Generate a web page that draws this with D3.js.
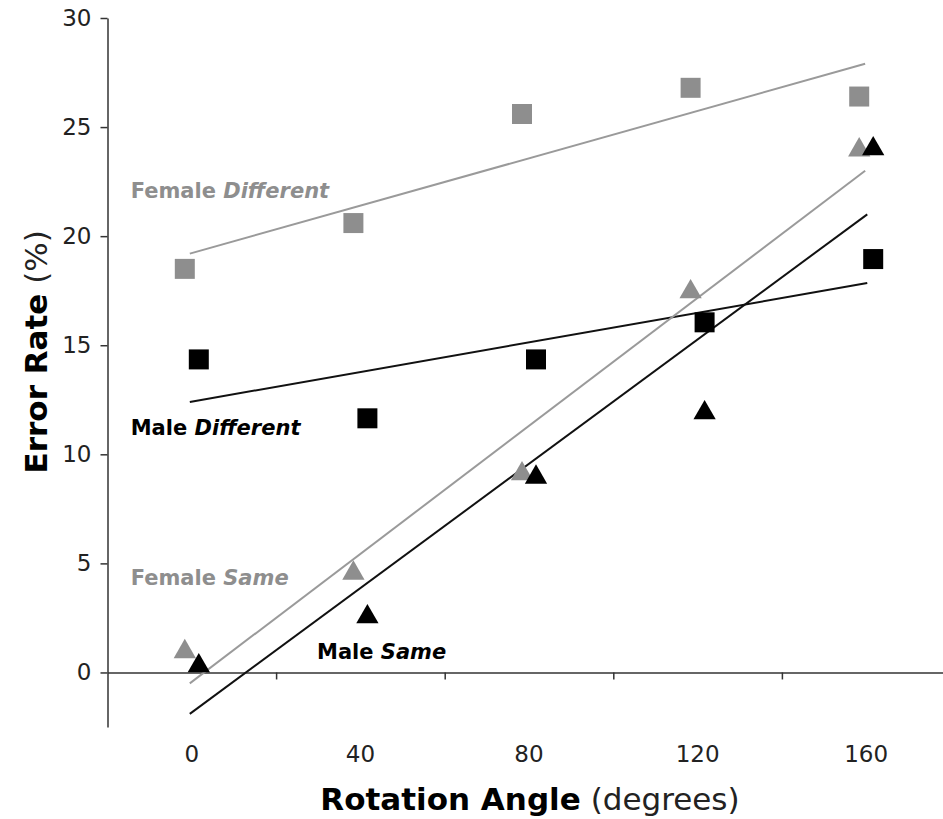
<!DOCTYPE html>
<html>
<head>
<meta charset="utf-8">
<script src="https://cdn.jsdelivr.net/npm/d3@7"></script>
<style>
  html, body { margin: 0; padding: 0; background: #fff; }
  svg { display: block; font-family: "DejaVu Sans", Verdana, sans-serif; }
</style>
</head>
<body>
<svg id="chart" width="943" height="819"></svg>
<script>
'use strict';

// rotation angles (categories on the x axis)
const angles = [0, 40, 80, 120, 160];
const yTicks = [0, 5, 10, 15, 20, 25, 30];

// error rates (%)
const femaleDifferent = [18.5, 20.6, 25.6, 26.8, 26.4];
const maleDifferent = [14.35, 11.65, 14.35, 16.05, 18.95];
const femaleSame = [0.95, 4.55, 9.1, 17.45, 23.95];
const maleSame = [0.3, 2.55, 8.95, 11.9, 24.0];

// trend line ends [start, end] at angle 0 and 160, as drawn
const trendFemaleDifferent = [19.2, 27.9];
const trendMaleDifferent = [12.4, 17.85];
const trendFemaleSame = [-0.5, 23.0];
const trendMaleSame = [-1.9, 21.0];

const GREY = '#8e8e8e';
const series = [
	{name: 'Female', kind: 'Different', values: femaleDifferent, trend: trendFemaleDifferent, shape: 'square', color: GREY, line: '#9a9a9a', dx: -7},
	{name: 'Male', kind: 'Different', values: maleDifferent, trend: trendMaleDifferent, shape: 'square', color: '#000', line: '#111', dx: 7},
	{name: 'Female', kind: 'Same', values: femaleSame, trend: trendFemaleSame, shape: 'triangle', color: GREY, line: '#9a9a9a', dx: -7},
	{name: 'Male', kind: 'Same', values: maleSame, trend: trendMaleSame, shape: 'triangle', color: '#000', line: '#111', dx: 7}
];

// label anchors (angle, value) for the series names
const labelPos = [[-14.5, 21.75], [-14.5, 10.9], [-14.5, 4.0], [29.7, 0.62]];

const svg = d3.select('#chart');
const margin = {left: 107.5, top: 18, bottom: 92};

const x = d3.scaleLinear().domain([-20, 180]).range([margin.left, margin.left + 843]);
const y = d3.scaleLinear().domain([-2.5, 30]).range([727, margin.top]);

// y axis
const yAxis = d3.axisLeft(y).tickValues(yTicks).tickSize(7).tickSizeOuter(0).tickPadding(9);
const gy = svg.append('g')
	.attr('transform', 'translate(' + x(-20) + ',0)')
	.call(yAxis);
gy.select('.domain').attr('stroke', '#333').attr('stroke-width', 1.5);
gy.selectAll('.tick line').attr('stroke', '#333').attr('stroke-width', 1.5);
gy.selectAll('.tick text').attr('fill', '#222').attr('font-size', 23)
	.attr('font-family', '"DejaVu Sans", Verdana, sans-serif');

// x axis line at y = 0, ticks between categories
const gx = svg.append('g')
	.attr('transform', 'translate(0,' + y(0) + ')')
	.call(d3.axisBottom(x).tickValues([20, 60, 100, 140]).tickSize(7).tickSizeOuter(0).tickFormat(''));
gx.select('.domain').attr('stroke', '#333').attr('stroke-width', 1.5);
gx.selectAll('.tick line').attr('stroke', '#333').attr('stroke-width', 1.5);

// category labels at the bottom
svg.append('g').selectAll('text')
	.data(angles)
	.join('text')
		.attr('x', d => x(d))
		.attr('y', 762)
		.attr('text-anchor', 'middle')
		.attr('font-size', 23)
		.attr('fill', '#222')
		.text(d => d);

// trend lines
svg.append('g').selectAll('line')
	.data(series)
	.join('line')
		.attr('x1', x(angles[0]) - 2)
		.attr('x2', d => x(angles[angles.length - 1]) + d.dx * 0.15)
		.attr('y1', d => y(d.trend[0]))
		.attr('y2', d => y(d.trend[1]))
		.attr('stroke', d => d.line)
		.attr('stroke-width', 2);

// markers
const sym = {square: d3.symbol().type(d3.symbolSquare).size(400), triangle: d3.symbol().type(d3.symbolTriangle).size(215)};
series.forEach(s => {
	svg.append('g').selectAll('path')
		.data(s.values)
		.join('path')
			.attr('d', sym[s.shape])
			.attr('transform', (d, i) => 'translate(' + (x(angles[i]) + s.dx) + ',' + y(d) + ')')
			.attr('fill', s.color);
});

// series labels
series.forEach((s, i) => {
	const t = svg.append('text')
		.attr('x', x(labelPos[i][0]))
		.attr('y', y(labelPos[i][1]))
		.attr('font-size', 21)
		.attr('font-weight', 'bold')
		.attr('fill', s.color);
	t.append('tspan').text(s.name + ' ');
	t.append('tspan').attr('font-style', 'italic').text(s.kind);
});

// axis titles
const xt = svg.append('text')
	.attr('x', 530)
	.attr('y', 810)
	.attr('text-anchor', 'middle')
	.attr('font-size', 31)
	.attr('fill', '#000');
xt.append('tspan').attr('font-weight', 'bold').text('Rotation Angle');
xt.append('tspan').attr('fill', '#222').text(' (degrees)');

const yt = svg.append('text')
	.attr('transform', 'translate(47,' + y(14.7) + ') rotate(-90)')
	.attr('text-anchor', 'middle')
	.attr('font-size', 31)
	.attr('fill', '#000');
yt.append('tspan').attr('font-weight', 'bold').text('Error Rate');
yt.append('tspan').attr('fill', '#222').text(' (%)');
</script>
</body>
</html>
